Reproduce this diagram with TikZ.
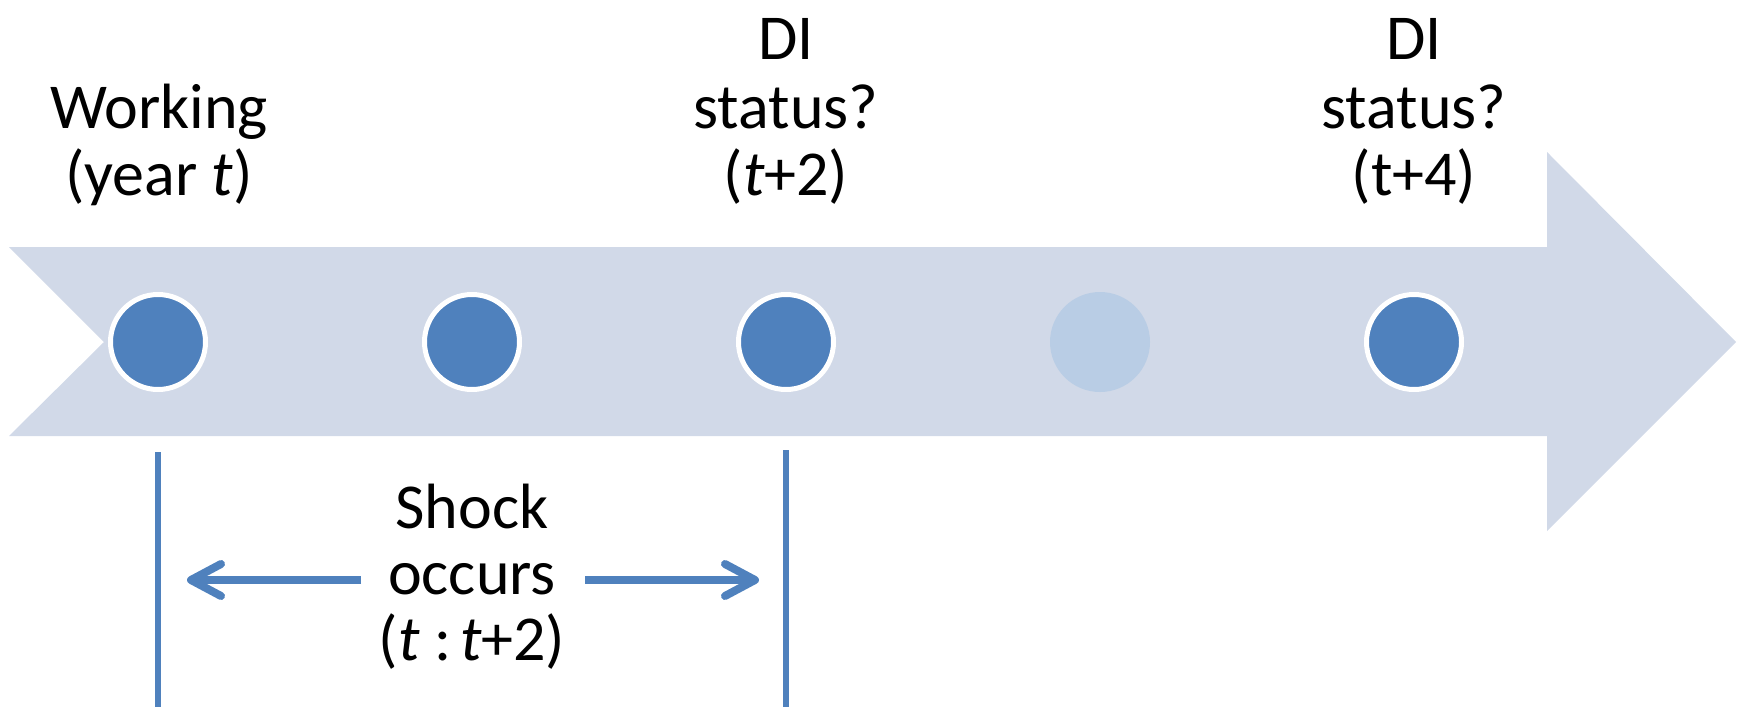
\documentclass[tikz,border=0pt]{standalone}
\usepackage{fontspec}
\setmainfont{Carlito}
\usetikzlibrary{arrows.meta}
\definecolor{bodyc}{HTML}{D1D9E8}
\definecolor{dotc}{HTML}{4F81BD}
\definecolor{fadec}{HTML}{B9CDE5}
\tikzset{
  dot/.style={circle, fill=dotc, draw=white, line width=5pt, minimum size=95pt, inner sep=0pt},
  fadedot/.style={circle, fill=fadec, minimum size=100pt, inner sep=0pt},
  lbl/.style={anchor=base, inner sep=0pt, font=\fontsize{64}{70}\selectfont},
  bar/.style={draw=dotc, line width=6.5pt},
  shaft/.style={draw=dotc, line width=8pt, -{Straight Barb[length=30pt,width=32pt,round]}}
}
\begin{document}
\begin{tikzpicture}[x=1pt,y=-1pt]
\useasboundingbox (0,0) rectangle (1745,707);
% big timeline arrow
\fill[bodyc] (9,247) -- (1547,247) -- (1547,152) -- (1736,342) -- (1547,531)
  -- (1547,436) -- (9,436) -- (104,342) -- cycle;
% dots
\node[dot] (d1) at (158,342) {};
\node[dot] (d2) at (472,342) {};
\node[dot] (d3) at (786,342) {};
\node[fadedot] (d4) at (1100,342) {};
\node[dot] (d5) at (1414,342) {};
% top labels
\node[lbl] (w1) at (159,128) {Working};
\node[lbl] (w2) at (159,195) {(year \textit{t})};
\node[lbl] (a1) at (786,59) {DI};
\node[lbl] (a2) at (786,128) {status?};
\node[lbl] (a3) at (786,195) {(\textit{t}+2)};
\node[lbl] (b1) at (1414,59) {DI};
\node[lbl] (b2) at (1414,128) {status?};
\node[lbl] (b3) at (1414,195) {(t+4)};
% bottom label
\node[lbl] (s1) at (472,528) {Shock};
\node[lbl] (s2) at (472,594) {occurs};
\node[lbl] (s3) at (472,660) {(\textit{t} :\hspace{0.14em}\textit{t}+2)};
% vertical bars
\coordinate (v1t) at (158,452);
\coordinate (v1b) at (158,707);
\coordinate (v2t) at (786,450);
\coordinate (v2b) at (786,707);
\draw[bar] (v1t) -- (v1b);
\draw[bar] (v2t) -- (v2b);
% horizontal arrows
\coordinate (la) at (361,580);
\coordinate (lb) at (187,580);
\coordinate (ra) at (585,580);
\coordinate (rb) at (759,580);
\draw[shaft] (la) -- (lb);
\draw[shaft] (ra) -- (rb);
\end{tikzpicture}
\end{document}
